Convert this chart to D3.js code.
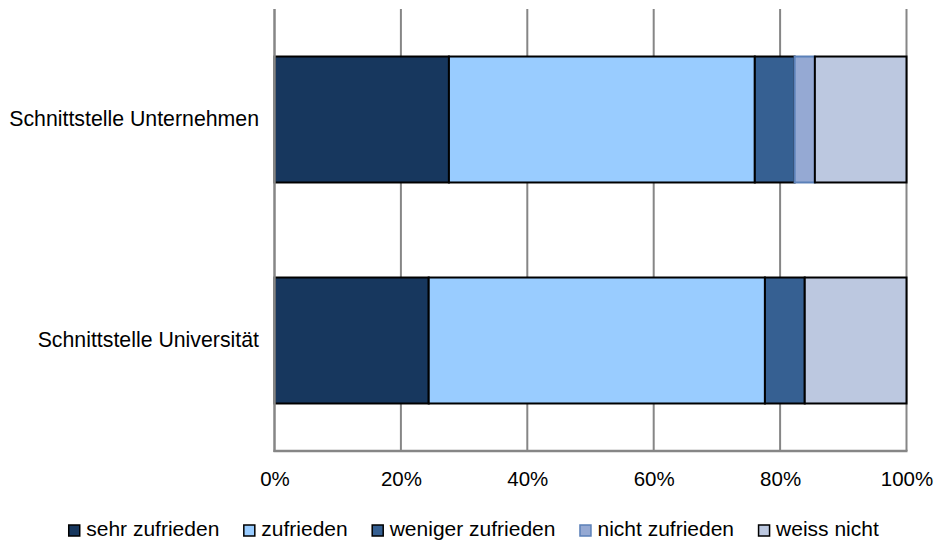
<!DOCTYPE html>
<html>
<head>
<meta charset="utf-8">
<script src="https://cdn.jsdelivr.net/npm/d3@7"></script>
<style>
  html, body { margin: 0; padding: 0; background: #fff; }
  svg { display: block; font-family: "Liberation Sans", Arial, sans-serif; }
</style>
</head>
<body>
<svg id="chart" width="937" height="542"></svg>
<script>
// Survey results: satisfaction with the two interfaces (percent shares)
const categories = ["Schnittstelle Unternehmen", "Schnittstelle Universität"];
const seriesNames = ["sehr zufrieden", "zufrieden", "weniger zufrieden", "nicht zufrieden", "weiss nicht"];
const sehrZufrieden    = [27.6, 24.4];
const zufrieden        = [48.4, 53.2];
const wenigerZufrieden = [6.3, 6.3];
const nichtZufrieden   = [3.2, 0];
const weissNicht       = [14.5, 16.1];
const tickValues = [0, 20, 40, 60, 80, 100];
const tickLabels = ["0%", "20%", "40%", "60%", "80%", "100%"];

const fills   = ["#17375E", "#99CCFF", "#366092", "#95A9D3", "#BCC8E0"];
const strokes = ["#000000", "#000000", "#000000", "#5B80B8", "#000000"];

const seriesValues = [sehrZufrieden, zufrieden, wenigerZufrieden, nichtZufrieden, weissNicht];

const svg = d3.select("#chart");
const plotLeft = 274.5, plotRight = 906.5, plotTop = 9, plotBottom = 451;

const x = d3.scaleLinear().domain([0, 100]).range([plotLeft, plotRight]);
const y = d3.scaleBand().domain(categories).range([plotTop, plotBottom])
  .paddingInner(0.43).paddingOuter(0.215);

// vertical gridlines
svg.append("g").selectAll("line").data(tickValues.slice(1)).join("line")
  .attr("x1", d => x(d)).attr("x2", d => x(d))
  .attr("y1", plotTop).attr("y2", plotBottom)
  .attr("stroke", "#868686").attr("stroke-width", 2);

// stacked segments
const rows = categories.map((c, i) => {
  let acc = 0;
  return seriesValues.map((vals, s) => {
    const seg = { cat: c, s, x0: acc, x1: acc + vals[i], v: vals[i] };
    acc += vals[i];
    return seg;
  });
}).flat().filter(d => d.v > 0);

svg.append("g").selectAll("rect").data(rows).join("rect")
  .attr("x", d => x(d.x0))
  .attr("width", d => x(d.x1) - x(d.x0))
  .attr("y", d => y(d.cat))
  .attr("height", y.bandwidth())
  .attr("fill", d => fills[d.s])
  .attr("stroke", d => strokes[d.s])
  .attr("stroke-width", 2);

// axis lines
svg.append("line").attr("x1", plotLeft).attr("x2", plotLeft).attr("y1", plotTop).attr("y2", plotBottom + 1)
  .attr("stroke", "#868686").attr("stroke-width", 2.5);
svg.append("line").attr("x1", plotLeft - 1).attr("x2", plotRight + 1).attr("y1", plotBottom).attr("y2", plotBottom)
  .attr("stroke", "#868686").attr("stroke-width", 2.5);

// x axis labels
const xAxis = d3.axisBottom(x).tickValues(tickValues)
  .tickFormat((d, i) => tickLabels[i]).tickSize(0).tickPadding(0);
const gx = svg.append("g").attr("transform", `translate(0,${plotBottom})`).call(xAxis);
gx.select(".domain").remove();
gx.selectAll("text").attr("font-size", 20.5).attr("fill", "#000")
  .attr("font-family", "Liberation Sans, Arial, sans-serif")
  .attr("dy", null).attr("y", 35);

// category labels
const yAxis = d3.axisLeft(y).tickSize(0).tickPadding(0);
const gy = svg.append("g").attr("transform", `translate(259,0)`).call(yAxis);
gy.select(".domain").remove();
gy.selectAll("text").attr("font-size", 21.3).attr("fill", "#000")
  .attr("font-family", "Liberation Sans, Arial, sans-serif");

// legend
const legend = svg.append("g");
let lx = 0;
seriesNames.forEach((name, i) => {
  const g = legend.append("g").attr("transform", `translate(${lx},0)`);
  g.append("rect").attr("x", 0.5).attr("y", -11).attr("width", 11).attr("height", 11)
    .attr("fill", fills[i]).attr("stroke", strokes[i]).attr("stroke-width", 1.5);
  const t = g.append("text").attr("x", 18).attr("y", 0).attr("font-size", 21)
    .attr("fill", "#000").text(name);
  lx += 18 + t.node().getComputedTextLength() + 24;
});
const legendWidth = lx - 24;
legend.attr("transform", `translate(${(937 - legendWidth) / 2 + 5},536)`);
</script>
</body>
</html>
